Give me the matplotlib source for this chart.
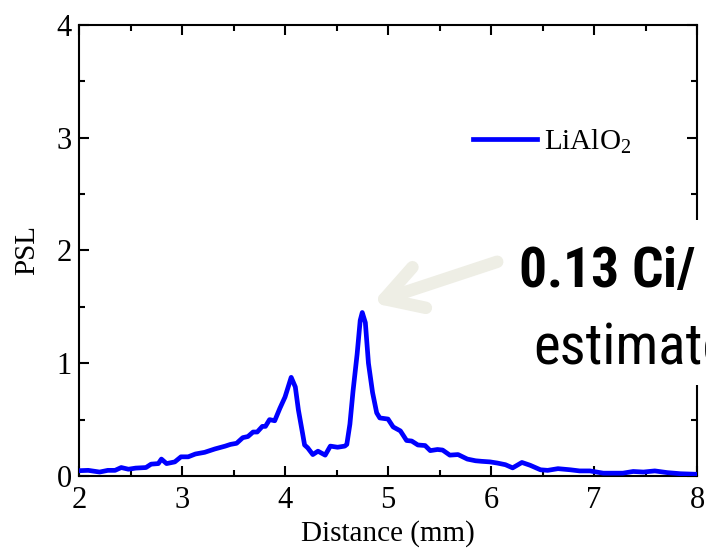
import matplotlib
matplotlib.use("Agg")
from matplotlib import pyplot as plt
from matplotlib import font_manager
from matplotlib.patches import Rectangle
from matplotlib.ticker import MultipleLocator

# PSL profile across the sample (LiAlO2)
distance = [2.00, 2.09, 2.20, 2.28, 2.35, 2.41, 2.48, 2.55, 2.65, 2.70,
            2.77, 2.80, 2.85, 2.93, 2.99, 3.06, 3.13, 3.22, 3.32, 3.42,
            3.47, 3.53, 3.59, 3.64, 3.69, 3.73, 3.78, 3.81, 3.85, 3.90,
            3.95, 4.00, 4.06, 4.10, 4.13, 4.17, 4.19, 4.22, 4.27, 4.32,
            4.39, 4.44, 4.51, 4.58, 4.60, 4.63, 4.66, 4.70, 4.73, 4.75,
            4.78, 4.81, 4.85, 4.89, 4.92, 5.00, 5.05, 5.12, 5.18, 5.23,
            5.29, 5.36, 5.41, 5.48, 5.53, 5.60, 5.68, 5.77, 5.85, 5.91,
            5.99, 6.06, 6.14, 6.21, 6.30, 6.38, 6.48, 6.55, 6.65, 6.77,
            6.86, 6.96, 7.09, 7.22, 7.28, 7.38, 7.48, 7.59, 7.71, 7.84,
            8.00]
psl = [0.047, 0.050, 0.035, 0.050, 0.050, 0.075, 0.060, 0.070, 0.075, 0.105,
       0.110, 0.150, 0.110, 0.125, 0.170, 0.170, 0.195, 0.210, 0.240, 0.265,
       0.280, 0.290, 0.340, 0.350, 0.390, 0.390, 0.440, 0.440, 0.500, 0.490,
       0.600, 0.700, 0.875, 0.790, 0.585, 0.380, 0.275, 0.250, 0.190, 0.220,
       0.185, 0.265, 0.255, 0.265, 0.280, 0.460, 0.750, 1.080, 1.380, 1.450,
       1.360, 1.000, 0.740, 0.560, 0.515, 0.505, 0.435, 0.400, 0.315, 0.310,
       0.275, 0.270, 0.225, 0.235, 0.230, 0.185, 0.190, 0.150, 0.135, 0.130,
       0.125, 0.115, 0.100, 0.072, 0.120, 0.095, 0.055, 0.050, 0.065, 0.055,
       0.045, 0.045, 0.025, 0.025, 0.025, 0.040, 0.035, 0.045, 0.030, 0.020,
       0.015]

serif = ['Liberation Serif', 'DejaVu Serif']


def pick_narrow():
    # use a condensed sans if one is installed, else plain Liberation Sans
    for name in ['Liberation Sans Narrow', 'DejaVu Sans Condensed',
                 'Arial Narrow', 'Roboto Condensed']:
        try:
            font_manager.findfont(font_manager.FontProperties(family=name),
                                  fallback_to_default=False)
            return [name], 1.0
        except Exception:
            pass
    return ['Liberation Sans'], 0.87


narrow, shrink = pick_narrow()

plt.rcParams['font.family'] = serif
plt.rcParams['mathtext.fontset'] = 'custom'
plt.rcParams['mathtext.rm'] = 'Liberation Serif'

fig = plt.figure(figsize=(7.06, 5.52), dpi=100)
ax = fig.add_axes([0.1119, 0.1377, 0.8754, 0.8170])

ax.plot(distance, psl, color='#0000ff', lw=3.4, label='LiAlO$_2$',
        solid_joinstyle='round', zorder=3)

ax.set_xlim(2, 8)
ax.set_ylim(0, 4)
ax.xaxis.set_major_locator(MultipleLocator(1))
ax.xaxis.set_minor_locator(MultipleLocator(0.5))
ax.yaxis.set_major_locator(MultipleLocator(1))
ax.yaxis.set_minor_locator(MultipleLocator(0.5))
ax.tick_params(which='both', direction='in', top=True, right=True, width=1.5,
               labelsize=22)
ax.tick_params(which='major', length=7)
ax.tick_params(which='minor', length=4)
ax.tick_params(axis='x', pad=7)
ax.tick_params(axis='y', pad=5)
for s in ax.spines.values():
    s.set_linewidth(1.5)

ax.set_xlabel('Distance (mm)', fontsize=21, labelpad=4)
ax.set_ylabel('PSL', fontsize=21, labelpad=12)

ax.legend(loc='center left', bbox_to_anchor=(0.6375, 0.7406), frameon=False,
          fontsize=21, handlelength=2.2, handletextpad=0.25, borderpad=0,
          borderaxespad=0)

# arrow pointing at the main peak
ax.annotate('', xy=(4.85, 1.535), xytext=(6.06, 1.90),
            arrowprops=dict(arrowstyle='->,head_length=1.2,head_width=0.7',
                            mutation_scale=22, lw=9, color='#eeeee5',
                            capstyle='round', joinstyle='round',
                            shrinkA=0, shrinkB=0))

# activity callout, runs off the right edge
fig.patches.append(Rectangle((505 / 706, 1 - 385 / 552), 201 / 706, 165 / 552,
                             transform=fig.transFigure, facecolor='white',
                             edgecolor='none', zorder=5))
fig.text(518 / 706, 1 - 288 / 552, '0.13 Ci/ cm$^2$', fontsize=40 * shrink,
         fontweight='bold', family=narrow, ha='left', va='baseline', zorder=6)
fig.text(533 / 706, 1 - 363 / 552, 'estimated', fontsize=41 * shrink,
         family=narrow, ha='left', va='baseline', zorder=6)

fig.savefig('out.png', dpi=100)
